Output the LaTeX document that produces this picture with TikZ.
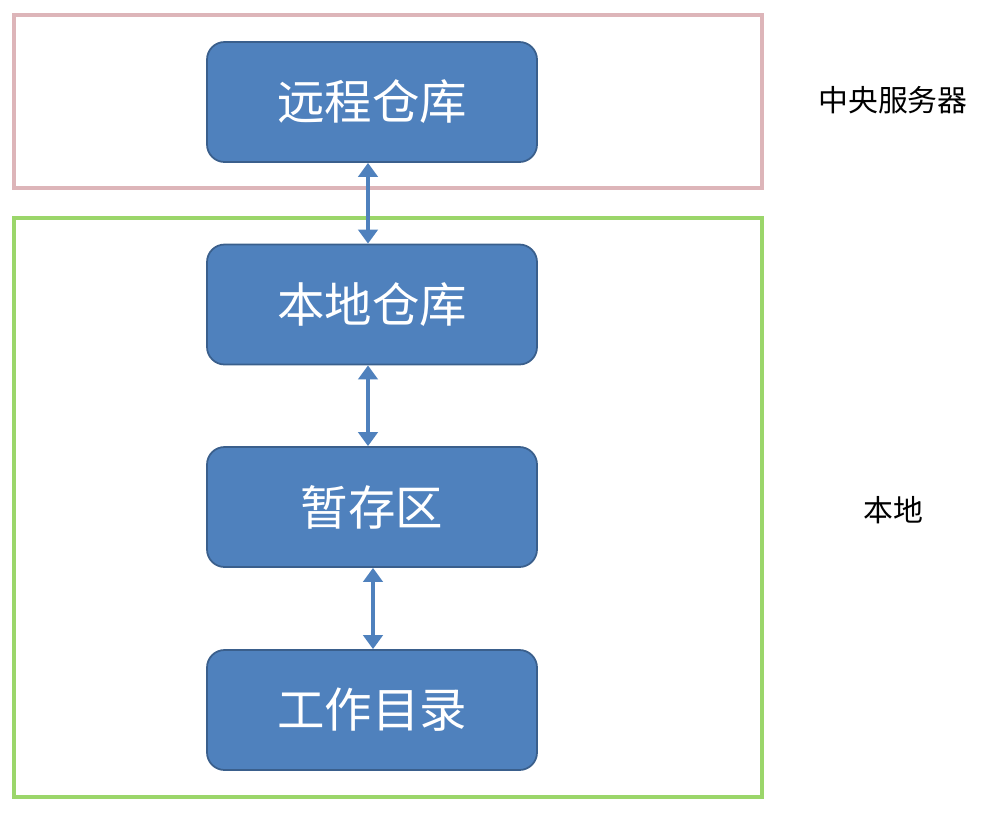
\documentclass[tikz,border=0pt]{standalone}
\usepackage{fontspec}
\newfontfamily\cjk{Noto Sans CJK SC}
\usetikzlibrary{arrows.meta,positioning}
\definecolor{boxblue}{HTML}{4F81BD}
\definecolor{boxedge}{HTML}{3A5F8C}
\definecolor{pinkline}{HTML}{DDB5B9}
\definecolor{greenline}{HTML}{9BD66A}

\begin{document}
\begin{tikzpicture}[
  stage/.style={draw=boxedge,line width=1pt,fill=boxblue,rounded corners=10pt,
                minimum width=6.6cm,minimum height=2.4cm,text=white,
                font=\cjk\fontsize{27}{32}\selectfont},
  frame/.style={line width=2pt,minimum width=14.96cm},
  side/.style={font=\cjk\fontsize{17}{20}\selectfont},
  arr/.style={{Triangle[width=11pt,length=8pt]}-{Triangle[width=11pt,length=8pt]},
              draw=boxblue,line width=2.2pt}]
\useasboundingbox (0,0) rectangle (19.86,-16.24);
% frames
\node[frame,draw=pinkline,minimum height=3.46cm] (server) at (7.76,-2.03) {};
\node[frame,draw=greenline,minimum height=11.58cm] (local) at (7.76,-10.15) {};
% stages
\node[stage] (remote) at (7.44,-2.04) {远程仓库};
\node[stage] (repo) at (7.44,-6.09) {本地仓库};
\node[stage] (index) at (7.44,-10.14) {暂存区};
\node[stage] (work) at (7.44,-14.2) {工作目录};
\draw[arr] ([xshift=-0.08cm]remote.south) -- ([xshift=-0.08cm]repo.north);
\draw[arr] ([xshift=-0.08cm]repo.south) -- ([xshift=-0.08cm]index.north);
\draw[arr] ([xshift=0.02cm]index.south) -- ([xshift=0.02cm]work.north);
% side labels
\node[side] (serverlbl) at (17.86,-2.0) {中央服务器};
\node[side] (locallbl) at (17.86,-10.2) {本地};
\end{tikzpicture}
\end{document}
